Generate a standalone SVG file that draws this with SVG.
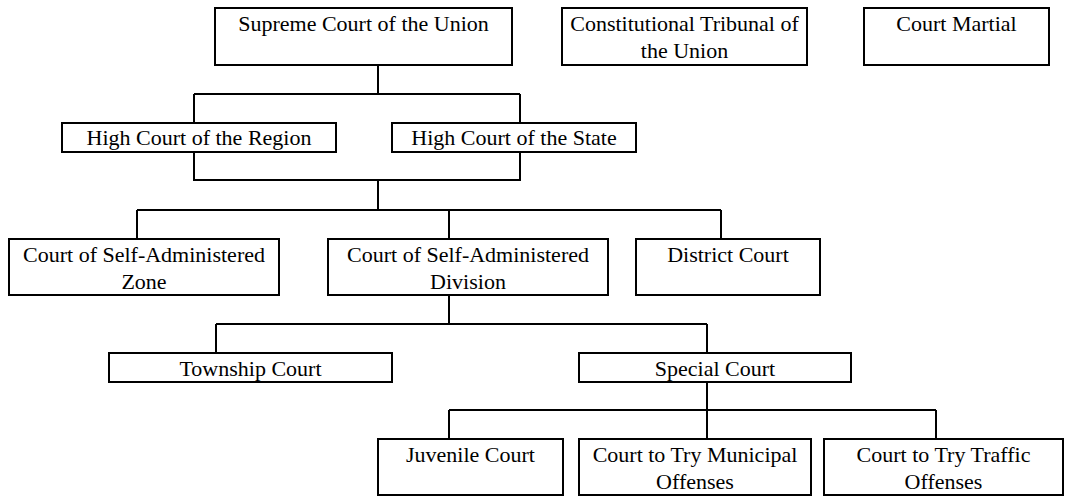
<svg xmlns="http://www.w3.org/2000/svg" width="1067" height="497" viewBox="0 0 1067 497">
<style>
rect.b{fill:#fff;stroke:#000;stroke-width:2}
.c path{fill:none;stroke:#000;stroke-width:2}
text{font-family:"Liberation Serif","Times New Roman",serif;font-size:22px;fill:#000;text-anchor:middle}
</style>
<rect width="1067" height="497" fill="#fff"/>
<g class="c" id="connectors">
<path d="M378 65V94M194 94H520M194 94V123M520 94V123"/>
<path d="M194 152V180H520V152M378 180V210"/>
<path d="M137 210H721M137 210V239M449 210V239M721 210V239"/>
<path d="M449 295V324M216 324H707M216 324V353M707 324V353"/>
<path d="M707 382V410M449 410H936M449 410V439M707 410V439M936 410V439"/>
</g>
<g id="supreme"><rect class="b" x="215" y="8" width="297" height="57"/><text x="363.5" y="31">Supreme Court of the Union</text></g>
<g id="constitutional"><rect class="b" x="562" y="8" width="245" height="57"/><text x="684.5" y="31">Constitutional Tribunal of</text><text x="684.5" y="58">the Union</text></g>
<g id="martial"><rect class="b" x="864" y="8" width="185" height="57"/><text x="956.5" y="31">Court Martial</text></g>
<g id="region"><rect class="b" x="62" y="123" width="274" height="29"/><text x="199" y="145">High Court of the Region</text></g>
<g id="state"><rect class="b" x="392" y="123" width="244" height="29"/><text x="514" y="145">High Court of the State</text></g>
<g id="zone"><rect class="b" x="9" y="239" width="270" height="56"/><text x="144" y="261.5">Court of Self-Administered</text><text x="144" y="289">Zone</text></g>
<g id="division"><rect class="b" x="328" y="239" width="280" height="56"/><text x="468" y="261.5">Court of Self-Administered</text><text x="468" y="289">Division</text></g>
<g id="district"><rect class="b" x="636" y="239" width="184" height="56"/><text x="728" y="261.5">District Court</text></g>
<g id="township"><rect class="b" x="109" y="353" width="283" height="29"/><text x="250.5" y="376">Township Court</text></g>
<g id="special"><rect class="b" x="579" y="353" width="272" height="29"/><text x="715" y="376">Special Court</text></g>
<g id="juvenile"><rect class="b" x="378" y="439" width="185" height="56"/><text x="470.5" y="461.5">Juvenile Court</text></g>
<g id="municipal"><rect class="b" x="579" y="439" width="232" height="56"/><text x="695" y="461.5">Court to Try Municipal</text><text x="695" y="489">Offenses</text></g>
<g id="traffic"><rect class="b" x="824" y="439" width="239" height="56"/><text x="943.5" y="461.5">Court to Try Traffic</text><text x="943.5" y="489">Offenses</text></g>
</svg>
